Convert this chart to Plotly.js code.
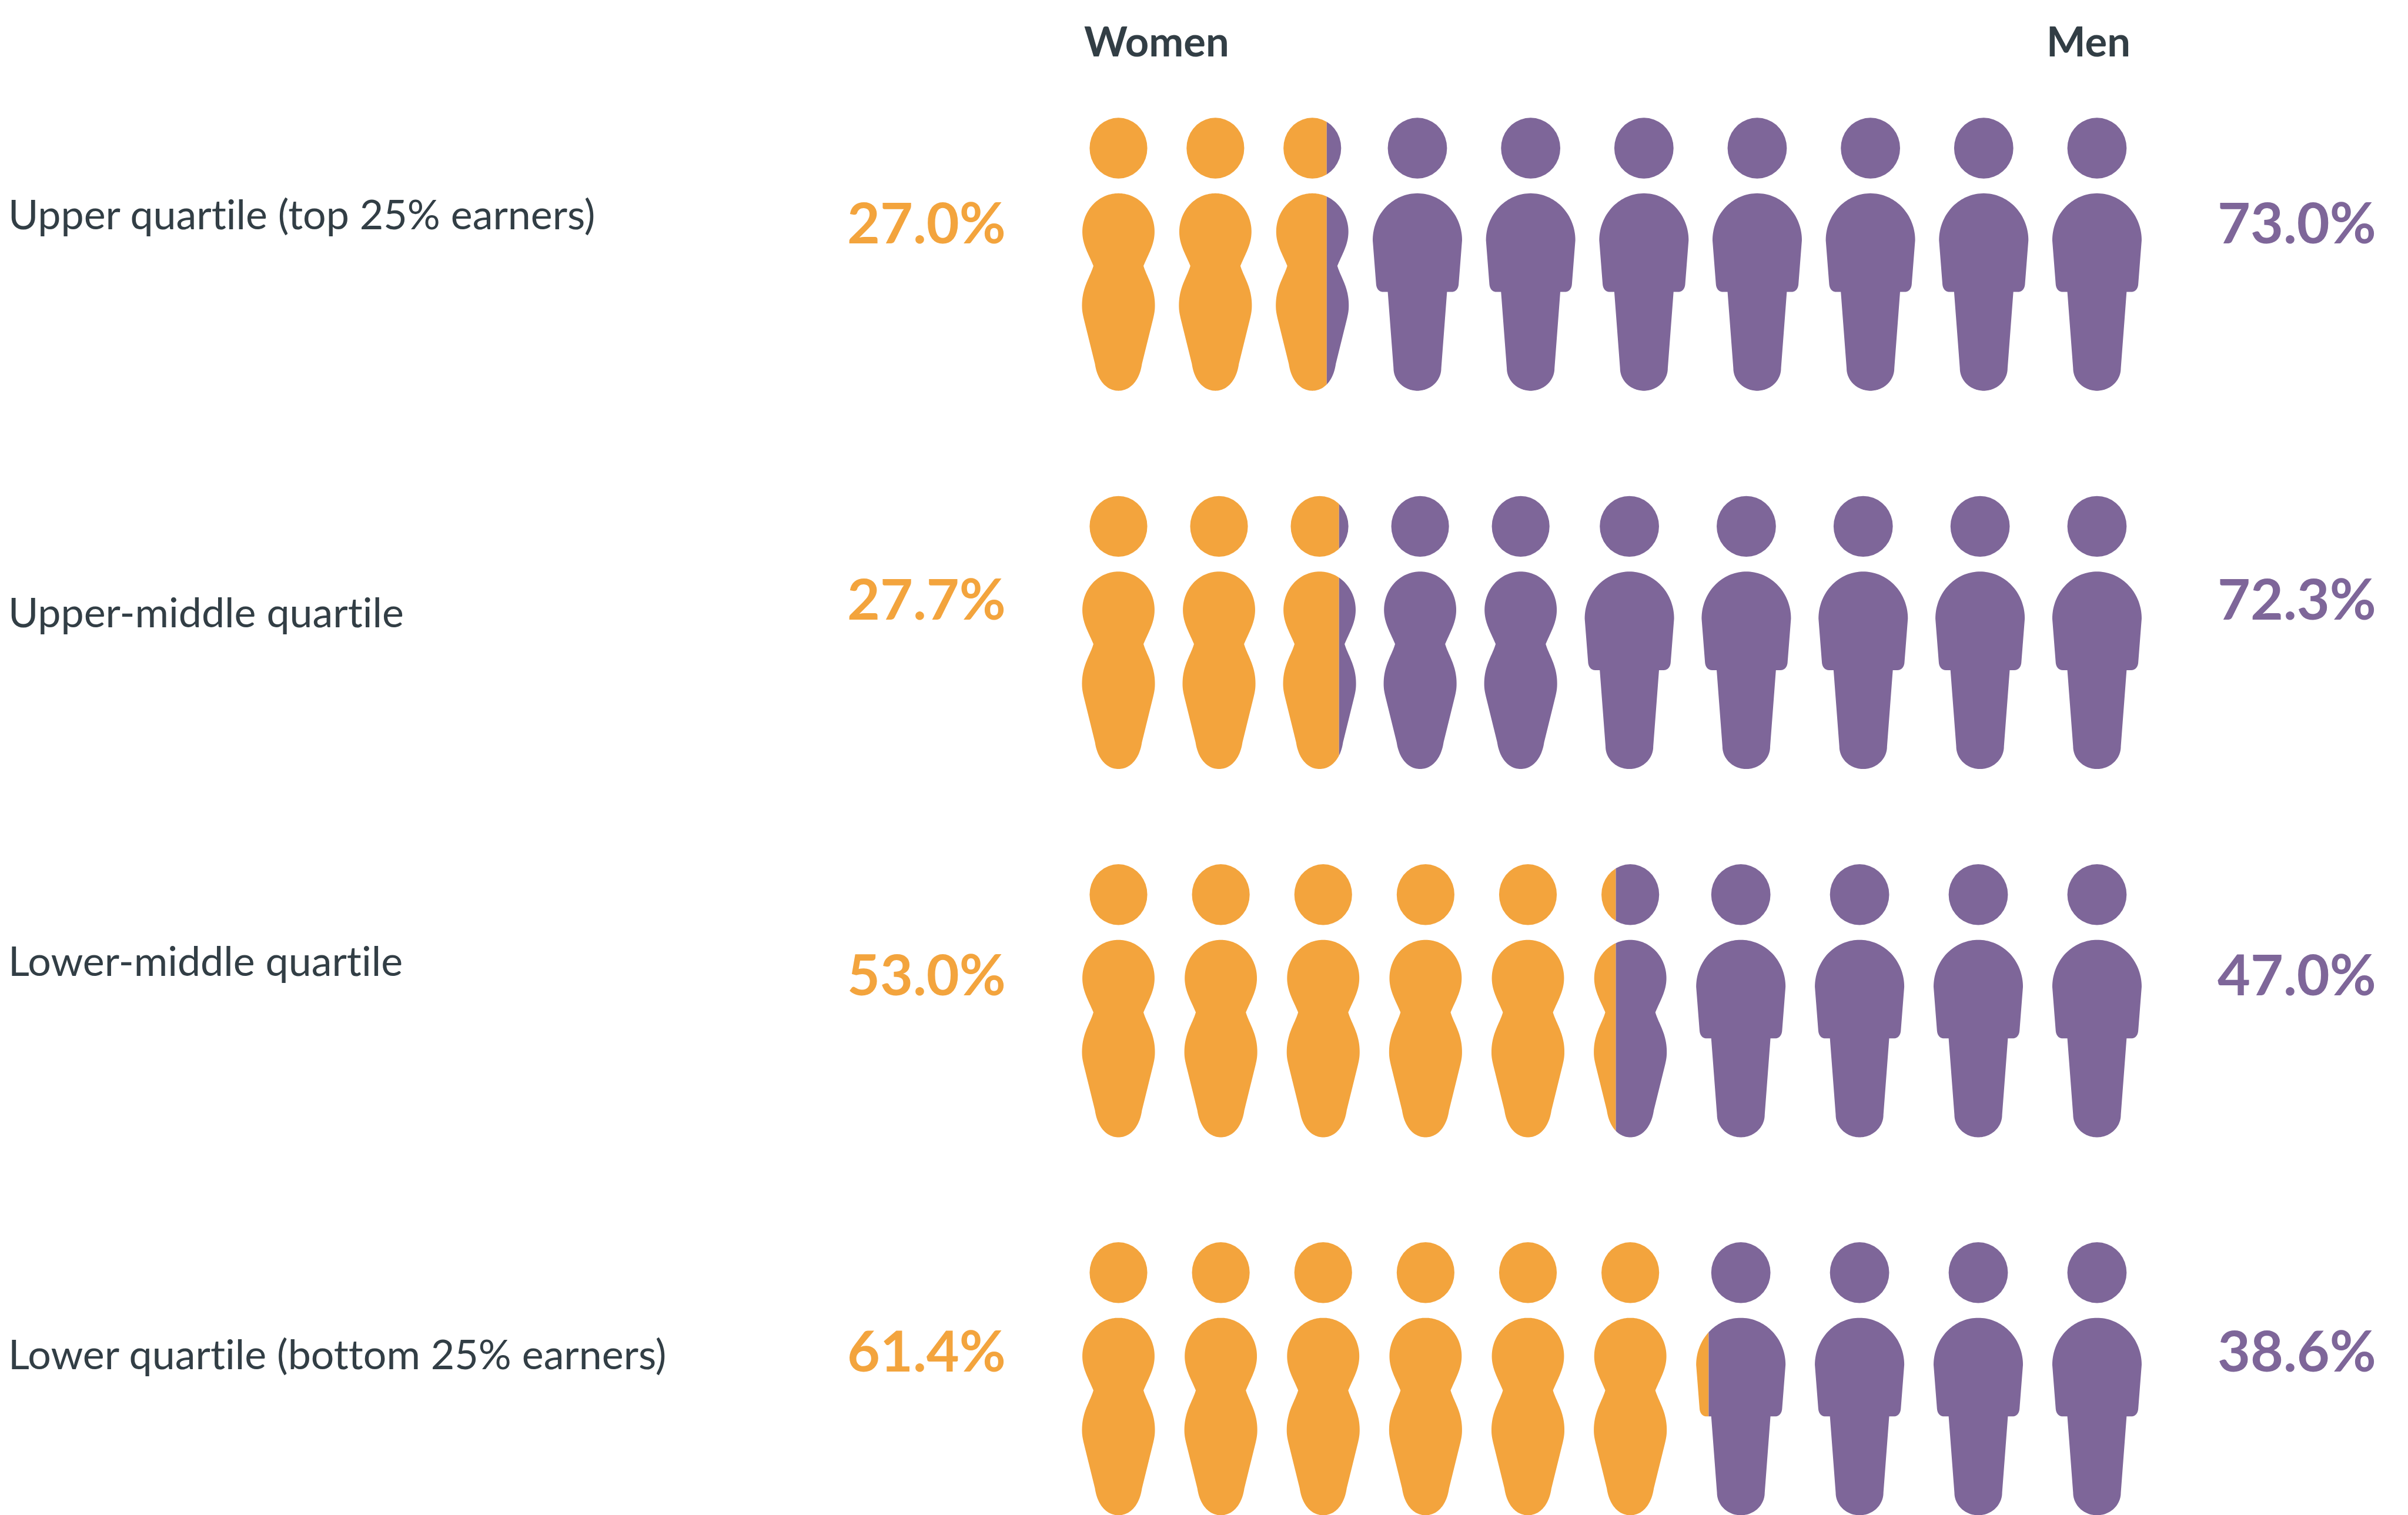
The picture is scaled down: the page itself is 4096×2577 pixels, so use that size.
<!DOCTYPE html>
<html>
<head>
<meta charset="utf-8">
<script src="https://cdn.plot.ly/plotly-3.0.1.min.js"></script>
<style>html,body{margin:0;padding:0;background:#fff}#chart{width:4096px;height:2577px}
svg text{font-variant-ligatures:none !important;font-feature-settings:"liga" 0,"clig" 0 !important}</style>
</head>
<body>
<div id="chart"></div>
<script>
// Pay quartiles: share of women and men, one row of ten figures per quartile.
const quartiles = [
  'Upper quartile (top 25% earners)',
  'Upper-middle quartile',
  'Lower-middle quartile',
  'Lower quartile (bottom 25% earners)'
];
const womenShare = [27.0, 27.7, 53.0, 61.4];
const menShare = [73.0, 72.3, 47.0, 38.6];
// How many figures in each row use the female silhouette, counted from the left.
const femaleFigures = [3, 5, 6, 6];
const groupNames = ['Women', 'Men'];

const ORANGE = '#F3A43D';
const PURPLE = '#7E6699';
const INK = '#323E45';

// Plot coordinate system.
const W = 4715, H = 2966;
const rowTop = [378.5, 1119, 1840, 2580];
const leftEdge = 2119, rightEdge = 4193;
const labelY = [418, 1197, 1879, 2649];
const shareY = [434, 1170, 1906, 2643];

// Silhouette construction, in plot units relative to the figure's axis and body top.
function arc(cy, rx, ry, a0, a1, out) {
  const n = 36;
  for (let i = 0; i <= n; i++) {
    const a = a0 + (a1 - a0) * i / n;
    out.push([rx * Math.sin(a), cy - ry * Math.cos(a)]);
  }
}
function bez(p0, c0, c1, p1, out) {
  const n = 30;
  for (let i = 1; i <= n; i++) {
    const t = i / n, u = 1 - t;
    out.push([
      u*u*u*p0[0] + 3*u*u*t*c0[0] + 3*u*t*t*c1[0] + t*t*t*p1[0],
      u*u*u*p0[1] + 3*u*u*t*c0[1] + 3*u*t*t*c1[1] + t*t*t*p1[1]
    ]);
  }
}
function mirrored(side) {
  const left = side.slice().reverse().map(p => [-p[0], p[1]]);
  return side.concat(left);
}
function maleBody() {
  const s = [];
  arc(92, 87.5, 92, 0, Math.PI / 2, s);
  s.push([80.8, 178]);
  bez([80.8, 178], [80, 187], [75, 193], [67, 193], s);
  s.push([58, 193]);
  s.push([46.7, 342.5]);
  arc(342.5, 46.7, 44, Math.PI / 2, Math.PI, s);
  return mirrored(s);
}
function femaleBody() {
  const s = [];
  arc(75, 70.7, 75, 0, Math.PI / 2, s);
  bez([70.7, 75], [70.7, 100], [59, 118], [49, 142], s);
  bez([49, 142], [56, 165], [71.4, 184], [71.4, 219.5], s);
  bez([71.4, 219.5], [71.4, 230], [70, 236], [68, 245], s);
  s.push([46, 334]);
  bez([46, 334], [41, 368], [22, 386.5], [0, 386.5], s);
  return mirrored(s);
}
function head(rx) {
  const s = [];
  arc(-88.5, rx, 59.5, 0, Math.PI * 2, s);
  return s;
}
// half: visible half-width; slot: half-width reserved in the row's spacing.
const FIGURES = {
  f: { half: 70.7, slot: 71, parts: [head(56.5), femaleBody()] },
  m: { half: 87.5, slot: 87, parts: [head(58), maleBody()] }
};

// Keep the part of a polygon on one side of a vertical line.
function clipX(poly, xc, keepLeft) {
  const inside = p => keepLeft ? p[0] <= xc : p[0] >= xc;
  const out = [];
  for (let i = 0; i < poly.length; i++) {
    const a = poly[i], b = poly[(i + 1) % poly.length];
    if (inside(a)) out.push(a);
    if (inside(a) !== inside(b)) {
      const t = (xc - a[0]) / (b[0] - a[0]);
      out.push([xc, a[1] + t * (b[1] - a[1])]);
    }
  }
  return out;
}
function addPoly(bucket, poly) {
  if (!poly.length) return;
  poly.forEach(p => { bucket.x.push(p[0]); bucket.y.push(p[1]); });
  bucket.x.push(poly[0][0]); bucket.y.push(poly[0][1]);
  bucket.x.push(null); bucket.y.push(null);
}

const women = { x: [], y: [] }, men = { x: [], y: [] };

quartiles.forEach((_, r) => {
  const kinds = [];
  for (let i = 0; i < 10; i++) kinds.push(i < femaleFigures[r] ? 'f' : 'm');
  // Figures are spread with equal gaps between the outer edges of the row.
  const used = kinds.reduce((t, k) => t + 2 * FIGURES[k].slot, 0);
  const gap = (rightEdge - leftEdge - used) / 9;
  const tenths = womenShare[r] / 10;
  let edge = leftEdge;
  kinds.forEach((k, i) => {
    const fig = FIGURES[k];
    const cx = edge + fig.slot;
    const fill = Math.max(0, Math.min(1, tenths - i));
    const split = cx - fig.half + fill * 2 * fig.half;
    fig.parts.forEach(part => {
      const poly = part.map(p => [cx + p[0], rowTop[r] + p[1]]);
      if (fill >= 1) addPoly(women, poly);
      else if (fill <= 0) addPoly(men, poly);
      else {
        addPoly(women, clipX(poly, split, true));
        addPoly(men, clipX(poly, split, false));
      }
    });
    edge += 2 * fig.slot + gap;
  });
});

const areaTrace = (name, pts, color) => ({
  type: 'scatter', mode: 'lines', name, x: pts.x, y: pts.y,
  fill: 'toself', fillcolor: color, line: { width: 0, color, simplify: false },
  hoverinfo: 'name', showlegend: false, connectgaps: false
});
const data = [areaTrace(groupNames[0], women, ORANGE), areaTrace(groupNames[1], men, PURPLE)];

const note = (text, x, y, xanchor, size, color, weight) => ({
  text, x, y, xref: 'x', yref: 'y', xanchor, yanchor: 'middle', showarrow: false,
  align: xanchor, borderpad: 0,
  font: { family: 'Lato, sans-serif', size, color, weight }
});
const annotations = [];
quartiles.forEach((q, r) => {
  annotations.push(note(q, 15, labelY[r], 'left', 69.9, INK, 400));
  annotations.push(note(womenShare[r].toFixed(1) + '%', 1971, shareY[r], 'right', 96.5, ORANGE, 700));
  annotations.push(note(menShare[r].toFixed(1) + '%', 4654, shareY[r], 'right', 96.5, PURPLE, 700));
});
annotations.push(note(groupNames[0], 2121, 79, 'left', 70.5, INK, 700));
annotations.push(note(groupNames[1], 4006, 79, 'left', 70.5, INK, 700));

const layout = {
  width: 4096, height: 2577,
  margin: { l: 0, r: 0, t: 0, b: 0, pad: 0 },
  paper_bgcolor: '#ffffff', plot_bgcolor: '#ffffff',
  showlegend: false,
  xaxis: { visible: false, range: [0, W], fixedrange: true },
  yaxis: { visible: false, range: [H, 0], fixedrange: true },
  annotations
};
Plotly.newPlot('chart', data, layout, { displayModeBar: false, staticPlot: true });
</script>
</body>
</html>
